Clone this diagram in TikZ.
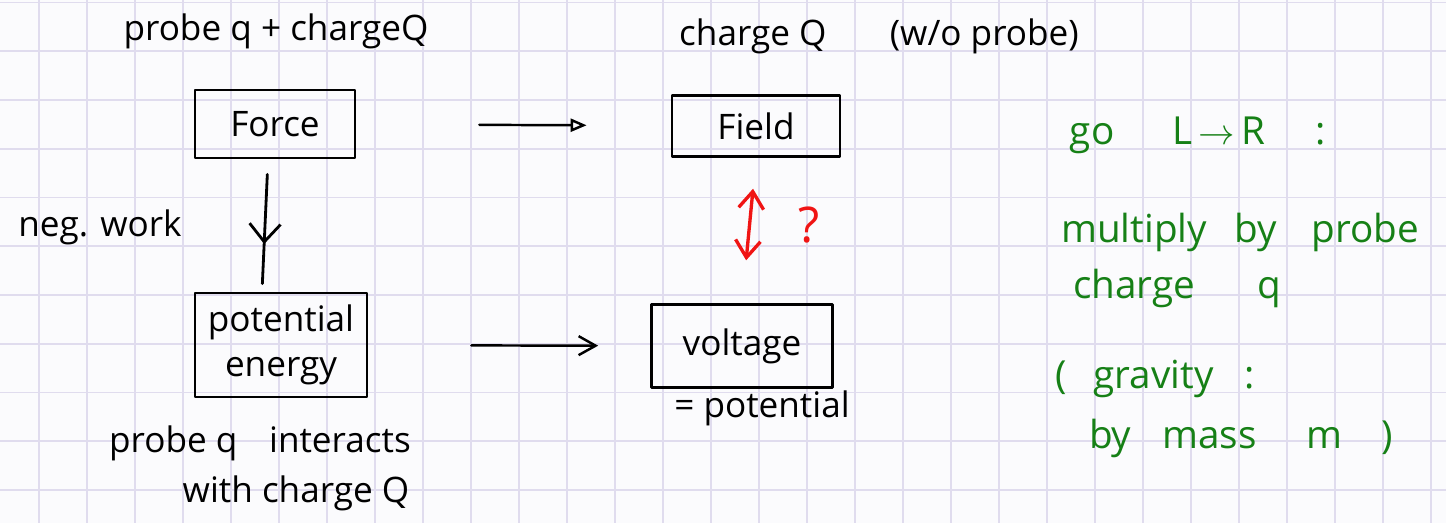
\documentclass[tikz,border=0pt]{standalone}
\usepackage{fontspec}
\setmainfont{Open Sans}
\usepackage{tikz}
\usetikzlibrary{arrows.meta,decorations.markings}

\definecolor{paper}{RGB}{251,251,253}
\definecolor{gridrule}{RGB}{224,220,238}
\definecolor{inkgreen}{RGB}{22,128,22}
\definecolor{inkred}{RGB}{240,20,20}

\tikzset{
  hand/.style={font=\fontsize{20}{26}\selectfont},
  ink/.style={line width=1.6pt, line cap=round, line join=round},
  box/.style={draw, ink, hand, inner sep=0pt, align=center},
  note/.style={font=\fontsize{22}{28}\selectfont, text=inkgreen, anchor=base},
  label/.style={hand, anchor=base},
}

\begin{document}
\begin{tikzpicture}[x=0.02cm, y=-0.02cm]
            \fill[paper] (0,0) rectangle (1446,523);
            \useasboundingbox (0,0) rectangle (1446,523);

            % squared paper
            \foreach \gx in {0,...,29}
                \draw[gridrule, line width=1pt] ({39.3+48*\gx},0) -- ({39.3+48*\gx},523);
            \foreach \gy in {0,...,10}
                \draw[gridrule, line width=1pt] (0,{2.5+48.75*\gy}) -- (1446,{2.5+48.75*\gy});

            % headings
            \node[label] (probeTitle) at (276,41) {probe q + chargeQ};
            \node[label] (chargeTitle) at (879,46) {charge Q\hspace{1.8em}(w/o probe)};

            % boxes
            \node[box, minimum width=3.2cm, minimum height=1.36cm] (force) at (275,124) {Force};
            \node[box, minimum width=3.36cm, minimum height=1.22cm] (field) at (756,126) {Field};
            \node[box, minimum width=3.44cm, minimum height=2.08cm] (potEnergy) at (281,345) {potential\\energy};
            \node[box, minimum width=3.62cm, minimum height=1.66cm] (voltage) at (742,346) {voltage};

            % side labels
            \node[label] (negWork) at (100,237) {neg. work};
            \node[label] (probeInteracts) at (260,452) {probe q\hspace{0.9em}interacts};
            \node[label] (withCharge) at (296,502) {with charge Q};
            \node[label] (eqPotential) at (762,417) {= potential};
            \node[label, font=\fontsize{28}{30}\selectfont, text=inkred] (question) at (809,243) {?};

            % connectors
            \draw[ink, line width=1.4pt, -{Triangle[open, length=0.32cm, width=0.26cm]},
                  shorten <=2.46cm, shorten >=1.68cm] (force) -- (field);
            \draw[ink, line width=1.4pt, -{Straight Barb[length=0.34cm, width=0.38cm]},
                  shorten <=2.06cm, shorten >=1.04cm] (potEnergy) -- (voltage);
            \draw[ink, shorten <=0.3cm, shorten >=0.16cm,
                  decoration={markings, mark=at position 0.64 with {\arrow{Straight Barb[length=0.36cm, width=0.62cm]}}},
                  postaction={decorate}] ([xshift=-0.14cm]force.south) -- ([xshift=-0.38cm]potEnergy.north);
            \draw[ink, inkred, line width=1.9pt, {Straight Barb[length=0.34cm, width=0.5cm]}-{Straight Barb[length=0.34cm, width=0.5cm]},
                  shorten <=0.62cm, shorten >=0.86cm] (field.south) -- (voltage.north);

            % notes
            \node[note] (goLR) at (1198,145) {go\hspace{1.5em}L\,$\rightarrow$\,R\hspace{1.3em}:};
            \node[note] (multiplyBy) at (1240,243) {multiply\hspace{0.7em}by\hspace{0.9em}probe};
            \node[note] (chargeQ) at (1177,298) {charge\hspace{1.6em}q};
            \node[note] (gravity) at (1155,388) {(\hspace{0.7em}gravity\hspace{0.8em}:};
            \node[note] (byMass) at (1241,448) {by\hspace{0.8em}mass\hspace{1.3em}m\hspace{1em})};
\end{tikzpicture}
\end{document}
